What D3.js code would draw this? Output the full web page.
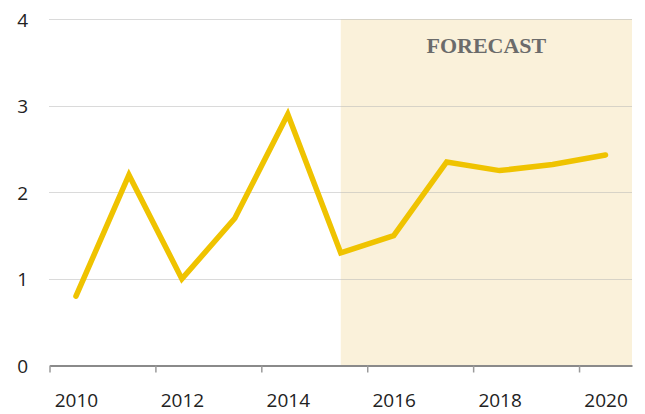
<!DOCTYPE html>
<html>
<head>
<meta charset="utf-8">
<script src="https://cdn.jsdelivr.net/npm/d3@7"></script>
<style>
    body { margin: 0; background: #fff; }
    svg { display: block; }
</style>
</head>
<body>
<div class="chart"></div>
<script>
const years = [2010, 2011, 2012, 2013, 2014, 2015, 2016, 2017, 2018, 2019, 2020];
const values = [0.8, 2.2, 1.0, 1.7, 2.9, 1.3, 1.5, 2.35, 2.25, 2.32, 2.43];
const yTicks = [0, 1, 2, 3, 4];
const xLabels = [2010, 2012, 2014, 2016, 2018, 2020];
const forecastFrom = 2015;
const forecastLabel = "FORECAST";

let svgW = 645,
    svgH = 414,
    plotLeft = 49.5,
    plotRight = 632,
    plotTop = 19,
    plotBottom = 365.5;

const svg = d3.select(".chart")
    .append("svg")
    .attr("width", svgW)
    .attr("height", svgH);

const x = d3.scaleLinear()
    .domain([years[0] - 0.5, years[years.length - 1] + 0.5])
    .range([plotLeft, plotRight]);

const y = d3.scaleLinear()
    .domain([0, 4])
    .range([plotBottom, plotTop]);

// forecast shading
svg.append("rect")
    .attr("x", x(forecastFrom))
    .attr("y", y(4))
    .attr("width", x.range()[1] - x(forecastFrom))
    .attr("height", y(0) - y(4))
    .attr("fill", "#FAF1DA");

svg.append("text")
    .attr("x", (x(forecastFrom) + x.range()[1]) / 2)
    .attr("y", 53)
    .attr("text-anchor", "middle")
    .attr("font-family", "'Liberation Serif', 'DejaVu Serif', serif")
    .attr("font-weight", "bold")
    .attr("font-size", 22)
    .attr("fill", "#6b6b6b")
    .text(forecastLabel);

// dotted gridlines
svg.selectAll("line.grid")
    .data(yTicks.slice(1))
    .enter()
    .append("line")
    .attr("class", "grid")
    .attr("x1", plotLeft)
    .attr("x2", plotRight)
    .attr("y1", d => Math.round(y(d)) + 0.5)
    .attr("y2", d => Math.round(y(d)) + 0.5)
    .attr("stroke", "#b4b4b4")
    .attr("stroke-width", 1)
    .attr("stroke-dasharray", "1,1");

// y labels
svg.selectAll("text.ylab")
    .data(yTicks)
    .enter()
    .append("text")
    .attr("class", "ylab")
    .attr("x", 28)
    .attr("y", d => y(d) + 7.5)
    .attr("text-anchor", "end")
    .attr("font-family", "'Open Sans', sans-serif")
    .attr("font-size", 19)
    .attr("fill", "#222")
    .text(d => d);

// x axis: ticks sit between years
const bounds = d3.range(years[0] - 0.5, years[years.length - 1] + 0.5, 2);
const xAxis = svg.append("g")
    .attr("transform", `translate(0, ${plotBottom})`)
    .call(d3.axisBottom(x).tickValues(bounds).tickFormat("").tickSize(7).tickSizeOuter(0));
xAxis.select(".domain").attr("stroke", "#8a8a8a").attr("stroke-width", 2);
xAxis.selectAll(".tick line").attr("stroke", "#9a9a9a").attr("stroke-width", 1.5);

const xLab = svg.append("g")
    .attr("transform", `translate(0, ${plotBottom})`)
    .call(d3.axisBottom(x).tickValues(xLabels).tickFormat(d3.format("d")).tickSize(0).tickPadding(28));
xLab.select(".domain").remove();
xLab.selectAll("text")
    .attr("font-family", "'Open Sans', sans-serif")
    .attr("font-size", 19)
    .attr("fill", "#222");

// line
const line = d3.line()
    .x((d, i) => x(years[i]))
    .y(d => y(d));

svg.append("path")
    .datum(values)
    .attr("d", line)
    .attr("fill", "none")
    .attr("stroke", "#EFC300")
    .attr("stroke-width", 5.5)
    .attr("stroke-linecap", "round")
    .attr("stroke-linejoin", "miter");
</script>
</body>
</html>
